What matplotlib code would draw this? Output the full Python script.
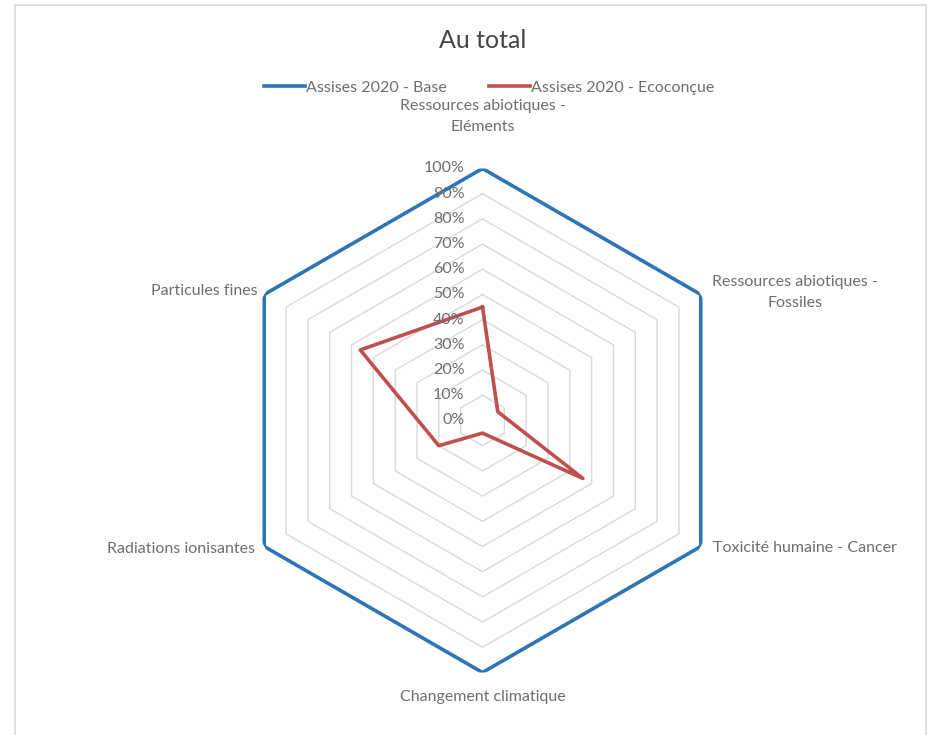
import numpy as np
import matplotlib.pyplot as plt
from matplotlib.patches import Rectangle

categories = ["Ressources abiotiques -\nEléments", "Ressources abiotiques -\nFossiles",
              "Toxicité humaine - Cancer", "Changement climatique",
              "Radiations ionisantes", "Particules fines"]
base = [1.00, 1.00, 1.00, 1.00, 1.00, 1.00]
ecoconcue = [0.45, 0.07, 0.46, 0.05, 0.20, 0.56]
rticks = [0.0, 0.1, 0.2, 0.3, 0.4, 0.5, 0.6, 0.7, 0.8, 0.9, 1.0]
rtick_labels = ["0%", "10%", "20%", "30%", "40%", "50%", "60%", "70%", "80%", "90%", "100%"]

plt.rcParams['font.family'] = ['Lato', 'DejaVu Sans']
W, H = 940, 735
fig = plt.figure(figsize=(W / 100, H / 100), dpi=100)

# light frame round the chart area
fig.patches.append(Rectangle((15 / W, -0.01), 911 / W, 1 - 5 / H + 0.01, transform=fig.transFigure,
                             fill=False, edgecolor='#d9d9d9', lw=1.2))

cx, cy, rad = 482.5, 420.5, 252
ax = fig.add_axes([(cx - rad) / W, 1 - (cy + rad) / H, 2 * rad / W, 2 * rad / H], projection='polar')
ax.set_theta_offset(np.pi / 2)
ax.set_theta_direction(-1)
ax.set_ylim(0, 1)
ax.grid(False)
ax.spines['polar'].set_visible(False)
ax.set_xticks([])
ax.set_yticks([])
ax.patch.set_alpha(0)

angles = np.linspace(0, 2 * np.pi, len(categories), endpoint=False)
closed = np.append(angles, angles[0])

# hexagonal gridlines
for r in rticks[1:]:
    ax.plot(closed, [r] * len(closed), color='#d9d9d9', lw=1, zorder=1)

ax.plot(closed, base + base[:1], color='#2e75b6', lw=2.6, zorder=3, label='Assises 2020 - Base')
ax.plot(closed, ecoconcue + ecoconcue[:1], color='#c0504d', lw=2.6, zorder=4,
        label='Assises 2020 - Ecoconçue')

fs = 11.5
for r, lab in zip(rticks, rtick_labels):
    ax.annotate(lab, xy=(0, r), xytext=(-18, 0), textcoords='offset pixels',
                ha='right', va='center', fontsize=fs, color='#6e6e6e', zorder=5)

# category labels: (dx, dy, ha) offsets from each outer vertex in pixels
offsets = [(0, 52, 'center'), (11, 2, 'left'), (12, -2, 'left'),
           (0, -25, 'center'), (-9, -2, 'right'), (-7, 4, 'right')]
for a, lab, (dx, dy, ha) in zip(angles, categories, offsets):
    ax.annotate(lab, xy=(a, 1), xytext=(dx, dy), textcoords='offset pixels',
                ha=ha, va='center', multialignment='center', fontsize=fs, color='#6e6e6e',
                linespacing=1.65, annotation_clip=False)

fig.text(cx / W, 1 - 40 / H, "Au total", ha='center', va='center', fontsize=18, color='#454545')
fig.legend(loc='center', bbox_to_anchor=(489 / W, 1 - 88 / H), ncol=2, frameon=False,
           fontsize=fs, handlelength=2.6, handletextpad=0.05, columnspacing=2.6,
           labelcolor='#6e6e6e')

fig.savefig('out.png', dpi=100)
